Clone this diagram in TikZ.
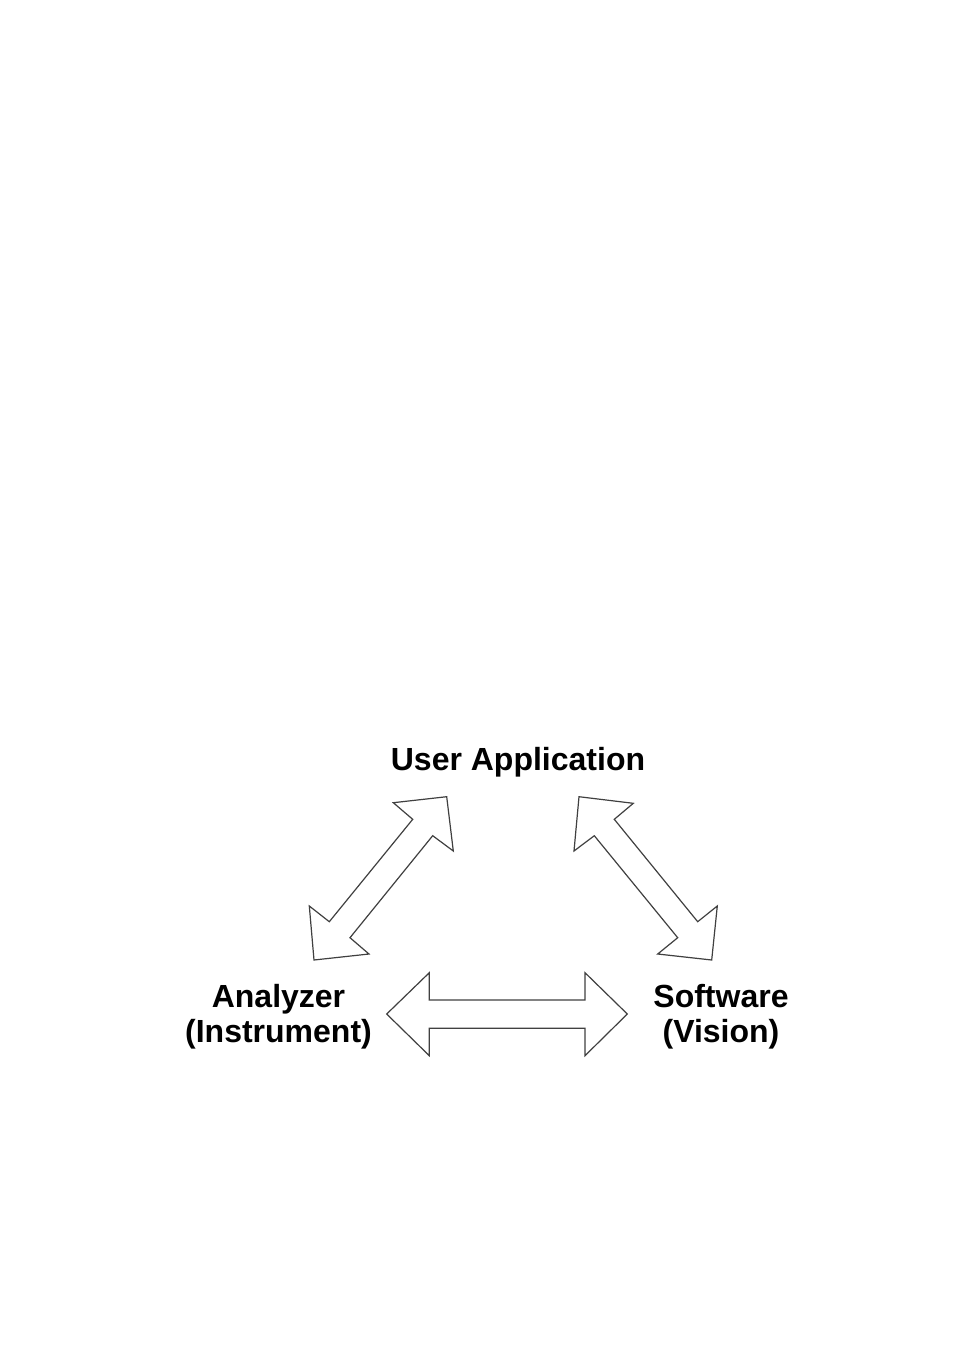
\documentclass[tikz,border=0pt]{standalone}
\usepackage{fontspec}
\setmainfont{Liberation Sans}
\begin{document}
\begin{tikzpicture}[x=1pt,y=-1pt,
  label/.style={font=\bfseries\fontsize{32}{34.5}\selectfont,inner sep=0pt,align=center,anchor=base},
  bigarrow/.style={draw=black!75,line width=1.2pt,line join=miter,fill=white}]
\useasboundingbox (0,0) rectangle (955,1350);
\node[label] (user) at (518,770) {User Application};
\node[label] (ana) at (278.5,1042) {Analyzer\\(Instrument)};
\node[label] (soft) at (721,1042) {Software\\(Vision)};
\draw[bigarrow] (446.7,796.7) -- (393.3,802.7) -- (412.7,819.3) -- (329.3,921.7) -- (309.3,906) -- (314,960) -- (369,954) -- (350,937.7) -- (432.7,835.7) -- (453.3,851) -- cycle;
\draw[bigarrow] (579,796.7) -- (633.3,803.3) -- (614.3,819.3) -- (697.7,921.7) -- (717.3,906) -- (711.7,960) -- (657.7,954) -- (677.7,937.7) -- (594.3,835.7) -- (574,851) -- cycle;
\draw[bigarrow] (386.7,1014) -- (429.3,972.7) -- (429.3,1000) -- (585,1000) -- (585,972.7) -- (627.3,1014) -- (585,1055.7) -- (585,1028.3) -- (429.3,1028.3) -- (429.3,1055.7) -- cycle;
\end{tikzpicture}
\end{document}
